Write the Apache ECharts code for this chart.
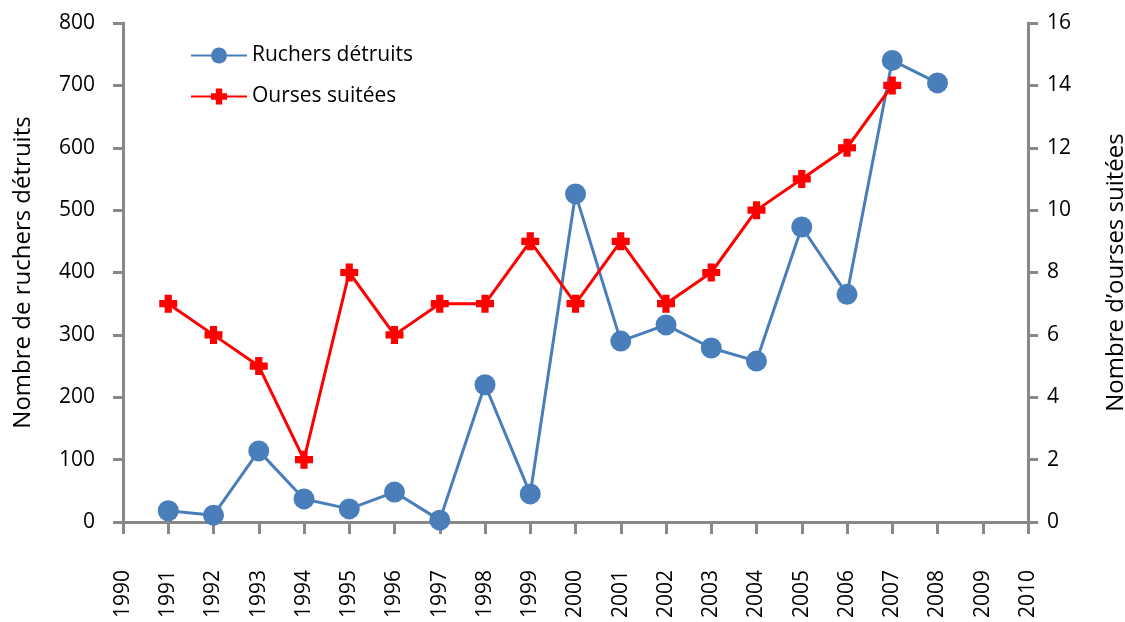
<!DOCTYPE html>
<html><head><meta charset="utf-8">
<script src="https://cdn.jsdelivr.net/npm/echarts@6/dist/echarts.min.js"></script>
<style>html,body{margin:0;padding:0;background:#fff}#c{width:1125px;height:622px}</style>
</head><body><div id="c"></div>
<script>
const years = [1991,1992,1993,1994,1995,1996,1997,1998,1999,2000,2001,2002,2003,2004,2005,2006,2007,2008];
const ruchers = [18,11,114,37,21,48,3,220,45,526,290,316,279,258,473,365,740,704];
const oursesYears = [1991,1992,1993,1994,1995,1996,1997,1998,1999,2000,2001,2002,2003,2004,2005,2006,2007];
const ourses = [7,6,5,2,8,6,7,7,9,7,9,7,8,10,11,12,14];
const FONT = '"Open Sans", "Noto Sans", sans-serif';
const axisCol = '#888888';
const plusPath = 'path://M3,0 L7,0 L7,3 L10,3 L10,7 L7,7 L7,10 L3,10 L3,7 L0,7 L0,3 L3,3 Z';
const chart = echarts.init(document.getElementById('c'));
chart.setOption({
  animation:false,
  backgroundColor:'#fff',
  grid:{left:123,right:97,top:23,bottom:100,containLabel:false,outerBoundsMode:'none'},
  legend:{
    orient:'vertical', left:185, top:40, itemGap:20, itemWidth:56, itemHeight:20,
    textStyle:{fontFamily:FONT,fontSize:21,color:'#000'},
    data:['Ruchers détruits','Ourses suitées']
  },
  xAxis:{
    type:'value', min:1990, max:2010, interval:1,
    axisLine:{lineStyle:{color:axisCol,width:3}},
    axisTick:{show:true,length:12,lineStyle:{color:axisCol,width:3}},
    splitLine:{show:false},
    axisLabel:{rotate:90,margin:48,fontFamily:FONT,fontSize:21,color:'#000',formatter:v=>String(v)}
  },
  yAxis:[{
    type:'value', min:0, max:800, interval:100, position:'left',
    name:'Nombre de ruchers détruits', nameLocation:'middle', nameRotate:90, nameGap:88,
    nameTextStyle:{fontFamily:FONT,fontSize:24,color:'#000'},
    axisLine:{show:true,lineStyle:{color:axisCol,width:3}},
    axisTick:{show:true,length:10,lineStyle:{color:axisCol,width:3}},
    splitLine:{show:false},
    axisLabel:{margin:28,fontFamily:FONT,fontSize:21,color:'#000'}
  },{
    type:'value', min:0, max:16, interval:2, position:'right',
    name:'Nombre d’ourses suitées', nameLocation:'middle', nameRotate:90, nameGap:76,
    nameTextStyle:{fontFamily:FONT,fontSize:24,color:'#000'},
    axisLine:{show:true,lineStyle:{color:axisCol,width:3}},
    axisTick:{show:true,length:10,lineStyle:{color:axisCol,width:3}},
    splitLine:{show:false},
    axisLabel:{margin:19,fontFamily:FONT,fontSize:21,color:'#000'}
  }],
  series:[{
    name:'Ruchers détruits', type:'line', yAxisIndex:0,
    data: years.map((y,i)=>[y,ruchers[i]]),
    symbol:'circle', symbolSize:21,
    lineStyle:{color:'#4a7ebb',width:3},
    itemStyle:{color:'#4a7ebb'}
  },{
    name:'Ourses suitées', type:'line', yAxisIndex:1,
    data: oursesYears.map((y,i)=>[y,ourses[i]]),
    symbol:plusPath, symbolSize:18,
    lineStyle:{color:'#ff0000',width:3},
    itemStyle:{color:'#ff0000'}
  }]
});
</script></body></html>
